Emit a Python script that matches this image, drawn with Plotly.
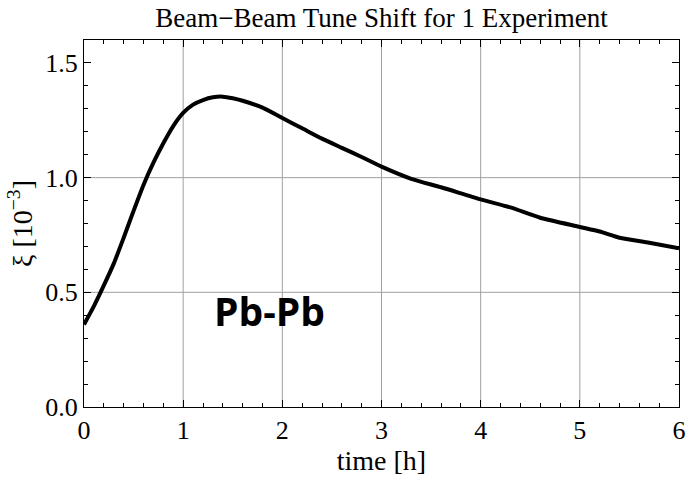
import plotly.graph_objects as go

time_h = [0, 0.1, 0.2, 0.3, 0.4, 0.5, 0.6, 0.7, 0.8, 0.9, 1.0, 1.1, 1.2, 1.3, 1.4,
          1.5, 1.6, 1.8, 2.0, 2.2, 2.4, 2.6, 2.8, 3.0, 3.3, 3.6, 4.0, 4.3, 4.6,
          5.0, 5.2, 5.4, 5.7, 6.0]
xi = [0.36, 0.44, 0.53, 0.625, 0.738, 0.855, 0.968, 1.065, 1.15, 1.225, 1.282, 1.318,
      1.338, 1.35, 1.353, 1.346, 1.335, 1.305, 1.26, 1.215, 1.17, 1.13, 1.09, 1.048,
      0.995, 0.958, 0.905, 0.87, 0.825, 0.785, 0.765, 0.738, 0.716, 0.692]

x_ticks = [0, 1, 2, 3, 4, 5, 6]
y_ticks = [0.0, 0.5, 1.0, 1.5]
y_tick_text = ["0.0", "0.5", "1.0", "1.5"]
x_grid = [1, 2, 3, 4, 5]
y_grid = [0.5, 1.0]

serif = "Liberation Serif, Times New Roman, serif"

fig = go.Figure()
fig.add_trace(go.Scatter(x=time_h, y=xi, mode="lines",
                         line=dict(color="black", width=4, shape="spline", smoothing=0.6),
                         showlegend=False, hoverinfo="skip"))

shapes = []
for g in x_grid:
    shapes.append(dict(type="line", xref="x", yref="paper", x0=g, x1=g, y0=0, y1=1,
                       line=dict(color="#a0a0a0", width=1), layer="below"))
for g in y_grid:
    shapes.append(dict(type="line", xref="paper", yref="y", x0=0, x1=1, y0=g, y1=g,
                       line=dict(color="#a0a0a0", width=1), layer="below"))

fig.update_layout(
    width=693, height=478,
    margin=dict(l=84, r=7, t=40, b=68),
    paper_bgcolor="white", plot_bgcolor="white",
    shapes=shapes,
    title=dict(text="Beam\u2212Beam Tune Shift for 1 Experiment",
               font=dict(family=serif, size=27, color="black"),
               x=0.5, xref="paper", xanchor="center",
               y=1 - 18 / 478, yref="container", yanchor="middle"),
    font=dict(family=serif, color="black"),
    annotations=[dict(text="<b>Pb-Pb</b>", x=1.87, y=0.42, xref="x", yref="y",
                      showarrow=False, xanchor="center", yanchor="middle",
                      font=dict(family="Open Sans, sans-serif", size=39, color="black"))],
)

fig.update_xaxes(range=[0, 6], tickvals=x_ticks, ticktext=[str(v) for v in x_ticks],
                 showgrid=False, zeroline=False,
                 showline=True, linecolor="black", linewidth=1, mirror="ticks",
                 ticks="inside", ticklen=7, tickcolor="black",
                 minor=dict(ticks="inside", dtick=0.2, ticklen=4, tickcolor="black", showgrid=False),
                 tickfont=dict(family=serif, size=26, color="black"),
                 title=dict(text="time [h]", font=dict(family=serif, size=28, color="black"), standoff=6))
fig.update_yaxes(range=[0, 1.6], tickvals=y_ticks, ticktext=y_tick_text,
                 showgrid=False, zeroline=False,
                 showline=True, linecolor="black", linewidth=1, mirror="ticks",
                 ticks="inside", ticklen=7, tickcolor="black",
                 minor=dict(ticks="inside", dtick=0.1, ticklen=4, tickcolor="black", showgrid=False),
                 tickfont=dict(family=serif, size=26, color="black"),
                 title=dict(text="\u03be [10<sup>\u22123</sup>]", font=dict(family=serif, size=28, color="black"), standoff=4))

fig.write_html("out.html")
